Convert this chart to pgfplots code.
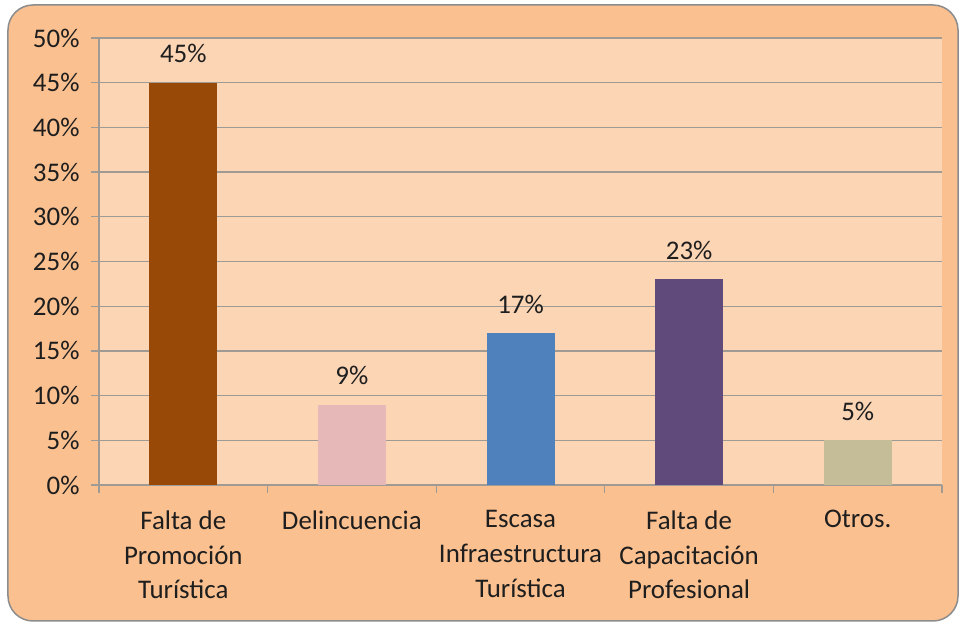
\documentclass[border=0pt]{standalone}
\usepackage{pgfplots}
\pgfplotsset{compat=1.18}
\usepackage{fontspec}
\setmainfont{Carlito}
\definecolor{outerbg}{HTML}{FAC090}
\definecolor{innerbg}{HTML}{FCD5B5}
\definecolor{gridgray}{HTML}{A09A94}
\definecolor{framegray}{HTML}{8C8C8C}
\definecolor{txt}{HTML}{1E1E1E}
\definecolor{cbrown}{HTML}{984807}
\definecolor{cpink}{HTML}{E6B9B8}
\definecolor{cblue}{HTML}{4F81BD}
\definecolor{cpurple}{HTML}{604A7B}
\definecolor{ckhaki}{HTML}{C4BD97}
\begin{document}
\begin{tikzpicture}[x=1bp,y=1bp]
\useasboundingbox (-99,-139) rectangle (860,485);
% chart area frame
\fill[outerbg, draw=framegray, line width=1.5bp, rounded corners=25bp] (-91,-136) rectangle (859,480);
\begin{axis}[
    at={(0,0)}, anchor=south west,
    scale only axis, width=843bp, height=447bp,
    xmin=-0.5, xmax=4.5, ymin=0, ymax=50,
    axis background/.style={fill=innerbg},
    ybar, bar width=68bp,
    axis x line*=bottom, axis y line*=left,
    axis line style={-, draw=gridgray, line width=1.3bp},
    /pgf/number format/assume math mode=true,
    ytick={0,5,...,50},
    yticklabel={\pgfmathprintnumber{\tick}\%},
    ymajorgrids, grid style={draw=gridgray, line width=1.3bp},
    xtick={0,...,4},
    xticklabels={{Falta de\\Promoción\\Turística},Delincuencia,{Escasa\\Infraestructura\\Turística},{Falta de\\Capacitación\\Profesional},Otros.},
    minor xtick={-0.5,0.5,...,4.5},
    tick align=outside, major tick length=8bp, minor tick length=8bp,
    major x tick style={draw=none},
    tick style={draw=gridgray, line width=1.3bp},
    tick label style={font=\fontsize{27}{35}\selectfont, text=txt},
    yticklabel style={xshift=-8bp},
    xticklabel style={align=center, yshift=-14bp},
    nodes near coords={\pgfmathprintnumber{\pgfplotspointmeta}\%},
    every node near coord/.append style={font=\fontsize{27}{35}\selectfont, text=txt, yshift=16bp},
]
\addplot[fill=cbrown, draw=none, bar shift=0pt] coordinates {(0,45)};
\addplot[fill=cpink, draw=none, bar shift=0pt] coordinates {(1,9)};
\addplot[fill=cblue, draw=none, bar shift=0pt] coordinates {(2,17)};
\addplot[fill=cpurple, draw=none, bar shift=0pt] coordinates {(3,23)};
\addplot[fill=ckhaki, draw=none, bar shift=0pt] coordinates {(4,5)};
\end{axis}
\end{tikzpicture}
\end{document}
